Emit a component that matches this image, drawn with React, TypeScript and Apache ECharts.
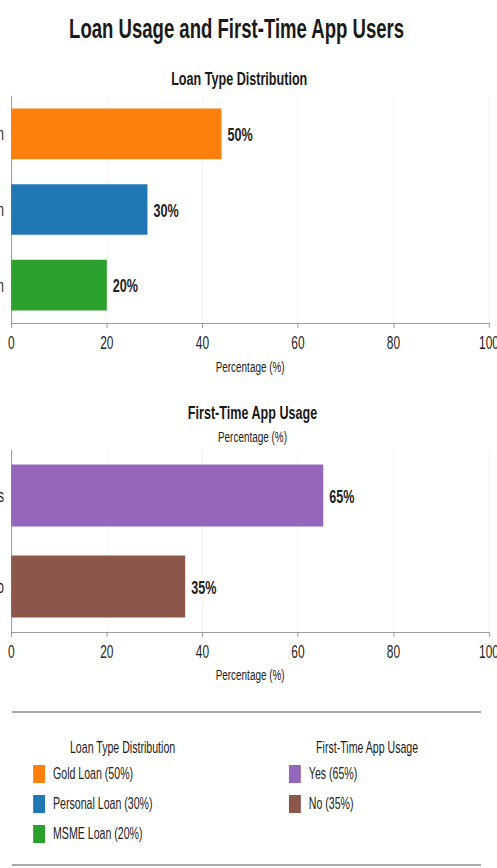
import React, { useEffect, useRef } from "react";
import * as echarts from "echarts";

// ---- data ----
const mainTitle = "Loan Usage and First-Time App Users";
const loanTitle = "Loan Type Distribution";
const appTitle = "First-Time App Usage";
const axisName = "Percentage (%)";

const loanTypes = ["Gold Loan", "Personal Loan", "MSME Loan"];
const loanBarValues = [44, 28.5, 20];
const loanLabels = ["50%", "30%", "20%"];
const loanColors = ["#ff7f0e", "#1f77b4", "#2ca02c"];

const appAnswers = ["Yes", "No"];
const appBarValues = [65.3, 36.4];
const appLabels = ["65%", "35%"];
const appColors = ["#9467bd", "#8c564b"];

const xMin = 0;
const xMax = 100;
const xInterval = 20;

// ---- layout ----
const W = 750; // drawing width, squeezed horizontally to 497px
const H = 868;
const SX = 497 / W;
const FONT = '"Liberation Sans", Arial, sans-serif';

export default function App() {
  const ref = useRef<HTMLDivElement>(null);

  useEffect(() => {
    if (!ref.current) return;
    const chart = echarts.init(ref.current, undefined, { renderer: "svg" });

    const xAxisCommon = (gridIndex: number, nameGap: number) => ({
      type: "value",
      gridIndex,
      min: xMin,
      max: xMax,
      interval: xInterval,
      name: axisName,
      nameLocation: "middle",
      nameGap,
      nameTextStyle: { fontSize: 15, color: "#222", fontFamily: FONT },
      axisLine: { show: true, lineStyle: { color: "#888", width: 1 } },
      axisTick: { show: true, length: 5, lineStyle: { color: "#888" } },
      axisLabel: { fontSize: 18, color: "#222", margin: 11, fontFamily: FONT },
      splitLine: { show: true, lineStyle: { color: "#f0f0f0", width: 1 } },
    });

    const yAxisCommon = (gridIndex: number, data: string[]) => ({
      type: "category",
      gridIndex,
      data,
      inverse: true,
      axisLine: { show: true, lineStyle: { color: "#888", width: 1 } },
      axisTick: { show: false },
      axisLabel: { fontSize: 18, color: "#222", margin: 11, fontFamily: FONT },
    });

    const makeSeries = (
      names: string[],
      values: number[],
      labels: string[],
      colors: string[],
      axisIndex: number,
      stack: string,
      gap: string
    ) =>
      names.map((name, i) => ({
        type: "bar",
        name,
        xAxisIndex: axisIndex,
        yAxisIndex: axisIndex,
        stack,
        barCategoryGap: gap,
        data: names.map((_, j) => (j === i ? values[i] : null)),
        itemStyle: { color: colors[i] },
        label: {
          show: true,
          position: "right",
          distance: 9,
          formatter: () => labels[i],
          fontSize: 19,
          fontWeight: "bold",
          color: "#222",
          fontFamily: FONT,
        },
      }));

    const legendCommon = {
      orient: "vertical",
      icon: "rect",
      itemWidth: 18,
      itemHeight: 18,
      itemGap: 12,
      padding: 0,
      selectedMode: false,
      textStyle: { fontSize: 16, color: "#222", fontFamily: FONT, padding: [0, 0, 0, 7] },
    };

    chart.setOption({
      animation: false,
      backgroundColor: "#fff",
      title: [
        {
          text: mainTitle,
          left: 352,
          top: 9,
          textAlign: "center",
          textStyle: { fontSize: 28, fontWeight: "bold", color: "#1a1a1a", fontFamily: FONT },
        },
        {
          text: loanTitle,
          left: 356,
          top: 63,
          textAlign: "center",
          textStyle: { fontSize: 19, fontWeight: "bold", color: "#1a1a1a", fontFamily: FONT },
        },
        {
          text: appTitle,
          left: 376,
          top: 397,
          textAlign: "center",
          textStyle: { fontSize: 19, fontWeight: "bold", color: "#1a1a1a", fontFamily: FONT },
        },
        {
          text: axisName,
          left: 376,
          top: 424,
          textAlign: "center",
          textStyle: { fontSize: 15, fontWeight: "normal", color: "#222", fontFamily: FONT },
        },
        {
          text: loanTitle,
          left: 180,
          top: 735,
          textAlign: "center",
          textStyle: { fontSize: 16, fontWeight: "normal", color: "#1a1a1a", fontFamily: FONT },
        },
        {
          text: appTitle,
          left: 549,
          top: 735,
          textAlign: "center",
          textStyle: { fontSize: 16, fontWeight: "normal", color: "#1a1a1a", fontFamily: FONT },
        },
      ],
      grid: [
        { left: 17, right: 12, top: 96, height: 227, containLabel: false, outerBoundsMode: "none" },
        { left: 17, right: 12, top: 450, height: 182, containLabel: false, outerBoundsMode: "none" },
      ],
      xAxis: [xAxisCommon(0, 36), xAxisCommon(1, 35)],
      yAxis: [yAxisCommon(0, loanTypes), yAxisCommon(1, appAnswers)],
      legend: [
        {
          ...legendCommon,
          left: 50,
          top: 765,
          data: loanTypes,
          formatter: (n: string) => `${n} (${loanLabels[loanTypes.indexOf(n)]})`,
        },
        {
          ...legendCommon,
          left: 436,
          top: 765,
          data: appAnswers,
          formatter: (n: string) => `${n} (${appLabels[appAnswers.indexOf(n)]})`,
        },
      ],
      graphic: [
        {
          type: "line",
          shape: { x1: 18, y1: 712, x2: 726, y2: 712 },
          style: { stroke: "#aaa", lineWidth: 2 },
        },
        {
          type: "line",
          shape: { x1: 18, y1: 865, x2: 726, y2: 865 },
          style: { stroke: "#aaa", lineWidth: 2 },
        },
      ],
      series: [
        ...makeSeries(loanTypes, loanBarValues, loanLabels, loanColors, 0, "loan", "33%"),
        ...makeSeries(appAnswers, appBarValues, appLabels, appColors, 1, "app", "32%"),
      ],
    });

    return () => chart.dispose();
  }, []);

  return (
    <div
      style={{
        position: "fixed",
        left: 0,
        top: 0,
        width: 497,
        height: H,
        overflow: "hidden",
        background: "#fff",
      }}
    >
      <div
        ref={ref}
        style={{
          width: W,
          height: H,
          transform: `scaleX(${SX})`,
          transformOrigin: "0 0",
        }}
      />
    </div>
  );
}
